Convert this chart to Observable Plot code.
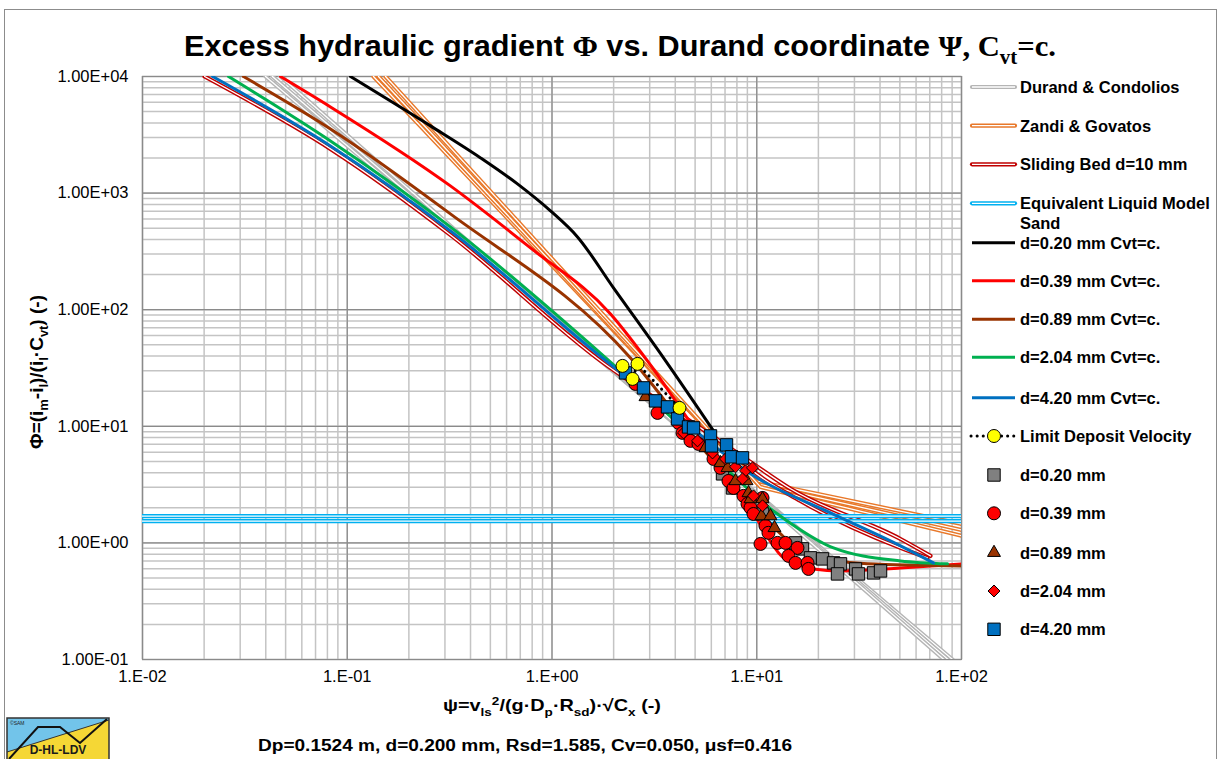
<!DOCTYPE html>
<html><head><meta charset="utf-8">
<script src="https://cdn.jsdelivr.net/npm/d3@7"></script>
<script src="https://cdn.jsdelivr.net/npm/@observablehq/plot@0.6"></script>
<style>
body{margin:0;background:#fff;}
#wrap{position:relative;width:1220px;height:759px;overflow:hidden;font-family:"Liberation Sans",Arial,sans-serif;background:#fff;}
#wrap svg{position:absolute;left:0;top:0;}
</style></head><body><div id="wrap"></div>
<script>
// ---------- axis ticks ----------
const xTicks = [0.01, 0.1, 1, 10, 100];
const yTicks = [0.1, 1, 10, 100, 1000, 10000];

// ---------- model lines (Psi, Phi) ----------
const durand1Psi = [0.0399, 90.4];  const durand1Phi = [10000, 0.1];
const durand2Psi = [0.0431, 86.0];  const durand2Phi = [10000, 0.1];
const durand3Psi = [0.0472, 82.0];  const durand3Phi = [10000, 0.1];

const zandi1Psi = [0.1343, 9.86, 100];  const zandi1Phi = [10000, 3.40, 1.455];
const zandi2Psi = [0.1421, 10.09, 100]; const zandi2Phi = [10000, 3.21, 1.29];
const zandi3Psi = [0.1538, 10.43, 100]; const zandi3Phi = [10000, 3.02, 1.15];

const slide1Psi = [0.0201, 0.0828, 0.319, 1.784, 5.312, 9.013, 14.62, 50.36, 70.56];
const slide1Phi = [10000, 2394, 438, 34.97, 9.69, 5.15, 2.91, 1.08, 0.774];
const slide2Psi = [7.04, 9.32, 16.36, 50.36, 68.2];
const slide2Phi = [6.93, 4.31, 2.29, 0.906, 0.744];

const elmPsi = [0.01, 100];
const elmPhi = [1.70, 1.54];

const d020Psi = [0.1037, 0.255, 0.448, 0.678, 0.983, 1.332, 1.997, 3.505, 6.149];
const d020Phi = [10000, 3771, 2004, 1199, 704, 421, 153.8, 38.6, 9.13];
const d039Psi = [0.0472, 0.0828, 0.319, 0.785, 1.931, 2.927, 4.747, 9.641, 13.51, 18.93, 25.65, 50.36, 100];
const d039Phi = [10000, 5486, 1153, 338.8, 92.04, 36.38, 10.70, 1.77, 0.744, 0.598, 0.575, 0.610, 0.661];
const d089Psi = [0.0311, 0.0828, 0.319, 2.418, 5.312, 12.63, 16.36, 34.75, 100];
const d089Phi = [10000, 3553, 663, 38.61, 6.79, 1.27, 0.854, 0.661, 0.635];
const d204Psi = [0.0263, 0.0828, 0.319, 1.784, 5.312, 12.07, 15.81, 23.71, 50.36, 85.43];
const d204Phi = [10000, 2804, 513, 40.16, 7.06, 1.88, 1.345, 0.906, 0.701, 0.661];
const d420Psi = [0.0220, 0.0828, 0.319, 1.784, 5.312, 9.322, 22.92, 50.36, 72.98];
const d420Phi = [10000, 2540, 474, 37.84, 8.44, 3.91, 1.81, 0.943, 0.674];

const ldvPsi = [2.210, 2.474, 2.616, 4.195];
const ldvPhi = [32.96, 25.49, 34.29, 14.38];

// ---------- measurements ----------
const m020Psi = [6.804, 7.613, 10.67, 15.47, 16.73, 18.30, 20.95, 23.71, 25.65, 24.80, 30.36, 31.40, 37.18, 40.23];
const m020Phi = [3.91, 2.96, 1.77, 1.00, 0.888, 0.744, 0.729, 0.674, 0.661, 0.542, 0.598, 0.542, 0.553, 0.575];
const m039Psi = [2.557, 3.276, 4.148, 4.340, 4.747, 5.194, 6.149, 6.653, 7.278, 7.699, 8.616, 9.013, 9.322, 9.641, 10.67, 11.03, 11.41, 10.43, 12.63, 13.82, 15.81, 14.29, 15.47, 17.70, 17.89];
const m039Phi = [23.10, 13.03, 10.70, 8.78, 7.50, 7.06, 5.25, 4.40, 3.40, 2.96, 2.53, 2.16, 2.00, 1.77, 2.43, 1.40, 1.22, 0.98, 1.00, 1.00, 0.906, 0.774, 0.674, 0.674, 0.598];
const m089Psi = [2.862, 5.619, 6.653, 7.197, 7.874, 8.913, 9.115, 9.322, 10.67, 10.55, 11.67, 12.21];
const m089Phi = [17.87, 6.53, 4.85, 4.40, 3.40, 3.40, 2.68, 2.38, 2.38, 1.70, 1.70, 1.345];
const m204Psi = [4.388, 5.136, 6.080, 7.038, 7.874, 8.812, 9.533, 8.520, 9.641, 10.67];
const m204Phi = [8.78, 7.50, 5.91, 5.25, 4.49, 4.15, 4.40, 3.54, 2.53, 2.08];
const m420Psi = [2.286, 2.798, 3.203, 3.665, 4.102, 4.642, 4.911, 5.944, 6.012, 7.117, 7.528, 8.520];
const m420Phi = [28.71, 21.35, 16.52, 14.67, 11.57, 9.88, 9.69, 8.27, 6.79, 6.93, 5.47, 5.36];

// ---------- legend labels ----------
const legendNames = ["Durand & Condolios", "Zandi & Govatos", "Sliding Bed d=10 mm", "Equivalent Liquid Model\nSand",
  "d=0.20 mm Cvt=c.", "d=0.39 mm Cvt=c.", "d=0.89 mm Cvt=c.", "d=2.04 mm Cvt=c.", "d=4.20 mm Cvt=c.",
  "Limit Deposit Velocity", "d=0.20 mm", "d=0.39 mm", "d=0.89 mm", "d=2.04 mm", "d=4.20 mm"];

// ---------- helpers ----------
const rows = (xs, ys) => xs.map((x, i) => ({x, y: ys[i]}));
const C = {durand:"#b5b5b5", zandi:"#e8782a", slide:"#c00000", elm:"#00b0f0",
  black:"#000000", red:"#ff0000", brown:"#993300", green:"#00b050", blue:"#0070c0",
  gray:"#808080", yellow:"#ffff00"};
const R = {square:7.0, circle:6.5, triangle:4.8, diamond:5.4};

function dbl(data, color, curve = "linear") {
  return [
    Plot.line(data, {x:"x", y:"y", stroke:color, strokeWidth:4.2, curve, clip:true}),
    Plot.line(data, {x:"x", y:"y", stroke:"#ffffff", strokeWidth:1.3, curve, clip:true})
  ];
}
function solid(data, color) {
  return Plot.line(data, {x:"x", y:"y", stroke:color, strokeWidth:3, curve:"monotone-x", clip:true});
}
function pts(data, symbol, fill, r) {
  return Plot.dot(data, {x:"x", y:"y", symbol, fill, stroke:"#000", strokeWidth:1, r});
}

const fmtX = d => { const e = Math.round(Math.log10(d)); return "1.E" + (e < 0 ? "-" : "+") + String(Math.abs(e)).padStart(2, "0"); };
const fmtY = d => { const e = Math.round(Math.log10(d)); return "1.00E" + (e < 0 ? "-" : "+") + String(Math.abs(e)).padStart(2, "0"); };

const xMinor = d3.scaleLog().domain([0.01, 100]).ticks();
const yMinor = d3.scaleLog().domain([0.1, 10000]).ticks();

const chart = Plot.plot({
  width: 1220, height: 759,
  marginLeft: 142, marginRight: 259, marginTop: 76, marginBottom: 100,
  x: {type:"log", domain:[0.01, 100], ticks: xTicks, tickFormat: fmtX, tickSize: 0, tickPadding: 11, label: null},
  y: {type:"log", domain:[0.1, 10000], ticks: yTicks, tickFormat: fmtY, tickSize: 0, tickPadding: 14, label: null},
  style: {fontFamily: "'Liberation Sans', Arial, sans-serif", fontSize: "16.5px", color: "#000", background: "#fff", overflow: "visible"},
  marks: [
    Plot.ruleX(xMinor, {stroke:"#c4c4c4", strokeWidth:1.5}),
    Plot.ruleY(yMinor, {stroke:"#c4c4c4", strokeWidth:1.5}),
    Plot.ruleX(xTicks, {stroke:"#8a8a8a", strokeWidth:1.2}),
    Plot.ruleY(yTicks, {stroke:"#8a8a8a", strokeWidth:1.2}),
    Plot.frame({stroke:"#8a8a8a", strokeWidth:1.2}),
    ...dbl(rows(durand1Psi, durand1Phi), C.durand),
    ...dbl(rows(durand2Psi, durand2Phi), C.durand),
    ...dbl(rows(durand3Psi, durand3Phi), C.durand),
    ...dbl(rows(zandi1Psi, zandi1Phi), C.zandi),
    ...dbl(rows(zandi2Psi, zandi2Phi), C.zandi),
    ...dbl(rows(zandi3Psi, zandi3Phi), C.zandi),
    ...dbl(rows(slide1Psi, slide1Phi), C.slide, "monotone-x"),
    ...dbl(rows(slide2Psi, slide2Phi), C.slide, "monotone-x"),
    ...dbl(rows(elmPsi, [elmPhi[0], elmPhi[0]]), C.elm),
    ...dbl(rows(elmPsi, [elmPhi[1], elmPhi[1]]), C.elm),
    solid(rows(d020Psi, d020Phi), C.black),
    solid(rows(d039Psi, d039Phi), C.red),
    solid(rows(d089Psi, d089Phi), C.brown),
    solid(rows(d204Psi, d204Phi), C.green),
    solid(rows(d420Psi, d420Phi), C.blue),
    Plot.line(rows(ldvPsi, ldvPhi), {x:"x", y:"y", stroke:"#000", strokeWidth:3, strokeDasharray:"0.1 6", strokeLinecap:"round"}),
    pts(rows(m020Psi, m020Phi), "square", C.gray, R.square),
    pts(rows(m039Psi, m039Phi), "circle", C.red, R.circle),
    pts(rows(m089Psi, m089Phi), "triangle", C.brown, R.triangle),
    pts(rows(m204Psi, m204Phi), "diamond2", C.red, R.diamond),
    pts(rows(m420Psi, m420Phi), "square", C.blue, R.square),
    pts(rows(ldvPsi, ldvPhi), "circle", C.yellow, R.circle)
  ]
});
document.getElementById("wrap").appendChild(chart);

// ---------- overlay: titles, legend, border, logo ----------
const W = 1220, H = 759;
const ov = d3.select("#wrap").append("svg").attr("width", W).attr("height", H)
  .style("pointer-events", "none").attr("font-family", "'Liberation Sans', Arial, sans-serif");

ov.append("rect").attr("x", 4.5).attr("y", 9.5).attr("width", 1212).attr("height", 760)
  .attr("fill", "none").attr("stroke", "#8c8c8c").attr("stroke-width", 1);

function rich(x, y, segs, size, opts = {}) {
  const t = ov.append("text").attr("x", x).attr("y", y).attr("font-size", size)
    .attr("font-weight", "bold").attr("text-anchor", opts.anchor || "middle");
  if (opts.transform) t.attr("transform", opts.transform).attr("x", 0).attr("y", 0);
  if (opts.len) t.attr("textLength", opts.len).attr("lengthAdjust", "spacingAndGlyphs");
  let cur = 0;
  for (const s of segs) {
    const shift = s.sub ? size * 0.28 : s.sup ? -size * 0.38 : 0;
    const sp = t.append("tspan").text(s.t);
    if (shift !== cur) sp.attr("dy", shift - cur);
    cur = shift;
    if (s.sub || s.sup) sp.attr("font-size", size * 0.68);
    if (s.serif) sp.attr("font-family", "'Liberation Serif', 'Times New Roman', serif");
  }
  return t;
}

// Title
rich(620, 56, [
  {t:"Excess hydraulic gradient "}, {t:"Φ", serif:true}, {t:" vs. Durand coordinate "},
  {t:"Ψ, C", serif:true}, {t:"vt", serif:true, sub:true}, {t:"=c.", serif:true}
], 30, {len: 872});

// Y axis title
rich(0, 0, [
  {t:"Φ=(i"}, {t:"m", sub:true}, {t:"-i"}, {t:"l", sub:true}, {t:")/(i"}, {t:"l", sub:true},
  {t:"·C"}, {t:"vt", sub:true}, {t:") (-)"}
], 19, {transform: "translate(43,372) rotate(-90)"});

// X axis title
rich(552, 711, [
  {t:"ψ=v"}, {t:"ls", sub:true}, {t:"2", sup:true}, {t:"/(g·D"}, {t:"p", sub:true}, {t:"·R"}, {t:"sd", sub:true},
  {t:")·√C"}, {t:"x", sub:true}, {t:" (-)"}
], 16.5, {len: 218});

// Footer
rich(525, 751, [{t:"Dp=0.1524 m, d=0.200 mm, Rsd=1.585, Cv=0.050, μsf=0.416"}], 16, {len: 534});

// Legend
const legY = [87, 125.7, 164.3, 203.3, 242.7, 280.7, 319.3, 357.3, 397.7, 436, 475, 513.3, 552.7, 591, 629.3];
const legKinds = [
  {k:"dbl", c:C.durand}, {k:"dbl", c:C.zandi}, {k:"dbl", c:C.slide}, {k:"dbl", c:C.elm},
  {k:"line", c:C.black}, {k:"line", c:C.red}, {k:"line", c:C.brown}, {k:"line", c:C.green}, {k:"line", c:C.blue},
  {k:"ldv"}, {k:"mk", s:d3.symbolSquare, c:C.gray, r:R.square}, {k:"mk", s:d3.symbolCircle, c:C.red, r:R.circle},
  {k:"mk", s:d3.symbolTriangle, c:C.brown, r:R.triangle}, {k:"mk", s:d3.symbolDiamond2, c:C.red, r:R.diamond},
  {k:"mk", s:d3.symbolSquare, c:C.blue, r:R.square}
];
const lx0 = 972, lx1 = 1015, ltx = 1020, lmx = 994;
legendNames.forEach((name, i) => {
  const y = legY[i], k = legKinds[i];
  const g = ov.append("g");
  if (k.k === "dbl") {
    g.append("line").attr("x1", lx0).attr("x2", lx1).attr("y1", y).attr("y2", y).attr("stroke", k.c).attr("stroke-width", 4.2).attr("stroke-linecap", "round");
    g.append("line").attr("x1", lx0).attr("x2", lx1).attr("y1", y).attr("y2", y).attr("stroke", "#fff").attr("stroke-width", 1.3);
  } else if (k.k === "line") {
    g.append("line").attr("x1", lx0).attr("x2", lx1).attr("y1", y).attr("y2", y).attr("stroke", k.c).attr("stroke-width", 3);
  } else if (k.k === "ldv") {
    g.append("line").attr("x1", lx0 - 1).attr("x2", lx1 + 1).attr("y1", y).attr("y2", y).attr("stroke", "#000").attr("stroke-width", 3)
      .attr("stroke-dasharray", "0.1 6").attr("stroke-linecap", "round");
    g.append("circle").attr("cx", lmx).attr("cy", y).attr("r", R.circle).attr("fill", C.yellow).attr("stroke", "#000");
  } else {
    const area = Math.PI * k.r * k.r;
    g.append("path").attr("d", d3.symbol(k.s, area)()).attr("transform", `translate(${lmx},${y})`)
      .attr("fill", k.c).attr("stroke", "#000").attr("stroke-width", 1);
  }
  const lines = name.split("\n");
  lines.forEach((ln, j) => {
    ov.append("text").attr("x", ltx).attr("y", y + 6 + j * 19.5).attr("font-size", 16.5)
      .attr("font-weight", "bold").text(ln);
  });
});

// Logo (bottom-left)
const logo = ov.append("g");
logo.append("rect").attr("x", 7).attr("y", 718).attr("width", 102).attr("height", 45).attr("fill", "#f5d735");
logo.append("polygon").attr("points", "7,718 109,718 109,720 7,752").attr("fill", "#72c4ea");
logo.append("line").attr("x1", 7).attr("y1", 752).attr("x2", 109).attr("y2", 720).attr("stroke", "#333").attr("stroke-width", 1);
logo.append("polyline").attr("points", "9,759 38,727 60,727 80,743 107,719").attr("fill", "none").attr("stroke", "#111").attr("stroke-width", 2);
logo.append("rect").attr("x", 7).attr("y", 718).attr("width", 102).attr("height", 45).attr("fill", "none").attr("stroke", "#333").attr("stroke-width", 1.5);
logo.append("text").attr("x", 10).attr("y", 725).attr("font-size", 5).attr("fill", "#222").text("©SAM");
logo.append("text").attr("x", 58).attr("y", 754).attr("font-size", 12).attr("font-weight", "bold").attr("text-anchor", "middle").attr("fill", "#1a1a1a").text("D-HL-LDV");
</script>
</body></html>
